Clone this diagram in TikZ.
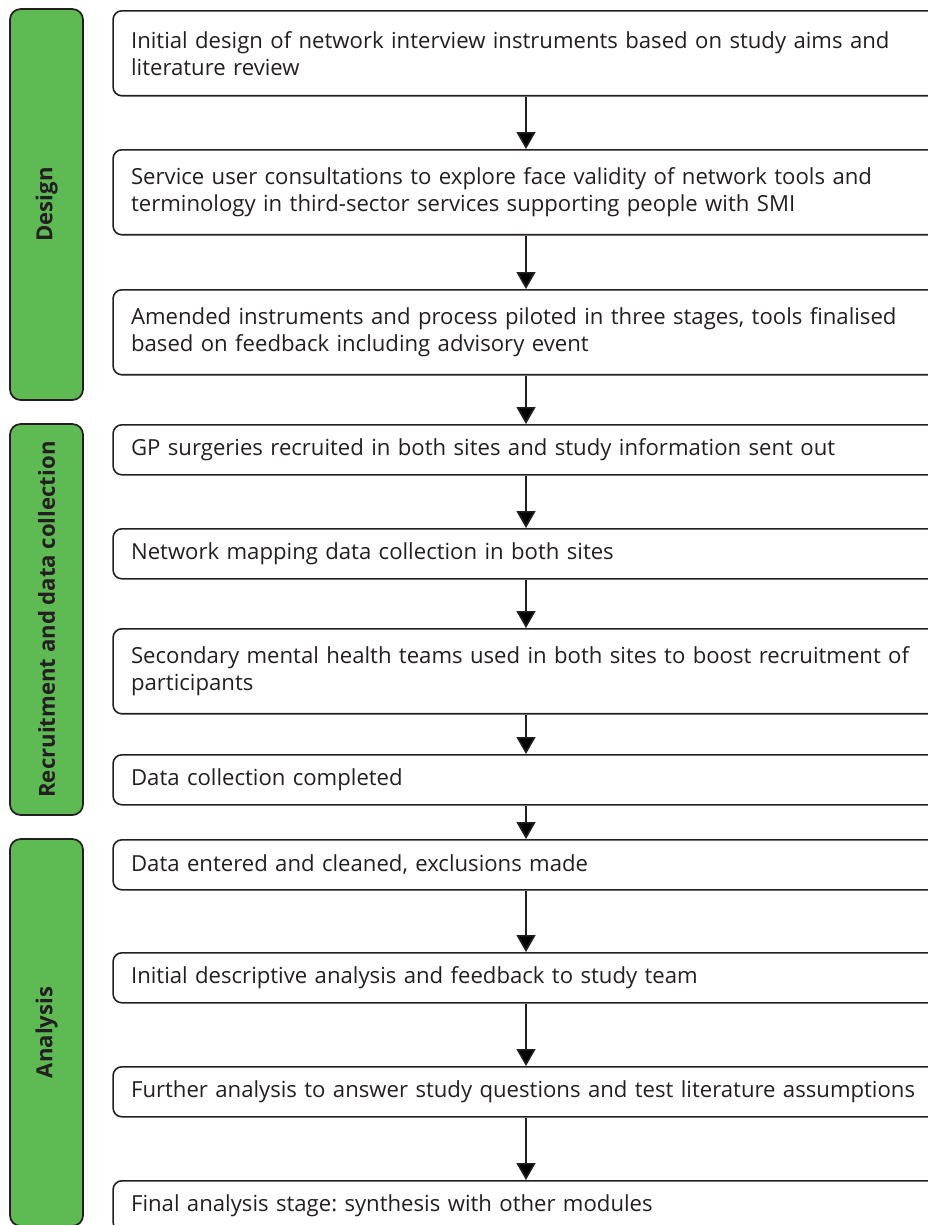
\documentclass[tikz,border=0pt]{standalone}
\usepackage{fontspec}
\setmainfont{Open Sans}
\usetikzlibrary{arrows.meta}
\definecolor{phasegreen}{RGB}{94,187,83}
\definecolor{ink}{RGB}{35,31,32}
\frenchspacing

\begin{document}
\begin{tikzpicture}[x=0.02cm,y=-0.02cm,
    box/.style={draw=ink,text=ink,rounded corners=5pt,line width=0.9pt,anchor=north,
        text width=15.8cm,inner xsep=0.36cm,inner ysep=0pt,align=left,
        font=\fontsize{12.6}{15.4}\selectfont},
    two/.style={minimum height=1.7cm},
    one/.style={minimum height=1.0cm},
    phase/.style={draw=ink,fill=phasegreen,text=ink,rounded corners=6pt,line width=1pt,
        rotate=90,minimum height=1.46cm,inner sep=0pt,font=\fontsize{12.6}{15}\selectfont\bfseries},
    arr/.style={-{Triangle[width=0.38cm,length=0.34cm]},line width=0.9pt,draw=ink}]
\useasboundingbox (0,0) rectangle (928,1225);
\clip (0,0) rectangle (928,1225);

% phases
\node[phase,minimum width=7.82cm] (design) at (46.5,204.5) {Design};
\node[phase,minimum width=7.82cm] (recruit) at (46.5,619.5) {Recruitment and data collection};
\node[phase,minimum width=7.74cm] (analysis) at (46.5,1032.5) {Analysis};

% steps
\node[box,two] (d1) at (526,10) {Initial design of network interview instruments based on study aims and\\literature review};
\node[box,two] (d2) at (526,149) {Service user consultations to explore face validity of network tools and\\terminology in third-sector services supporting people with SMI};
\node[box,two] (d3) at (526,289) {Amended instruments and process piloted in three stages, tools finalised\\based on feedback including advisory event};
\node[box,one] (r1) at (526,424) {GP surgeries recruited in both sites and study information sent out};
\node[box,one] (r2) at (526,528) {Network mapping data collection in both sites};
\node[box,two] (r3) at (526,628) {Secondary mental health teams used in both sites to boost recruitment of\\participants};
\node[box,one] (r4) at (526,754) {Data collection completed};
\node[box,one] (a1) at (526,839) {Data entered and cleaned, exclusions made};
\node[box,one] (a2) at (526,952) {Initial descriptive analysis and feedback to study team};
\node[box,one] (a3) at (526,1066) {Further analysis to answer study questions and test literature assumptions};
\node[box,one] (a4) at (526,1180) {Final analysis stage: synthesis with other modules};

\path[arr] (d1) edge (d2)
           (d2) edge (d3)
           (d3) edge (r1)
           (r1) edge (r2)
           (r2) edge (r3)
           (r3) edge (r4)
           (r4) edge (a1)
           (a1) edge (a2)
           (a2) edge (a3)
           (a3) edge (a4);
\end{tikzpicture}
\end{document}
